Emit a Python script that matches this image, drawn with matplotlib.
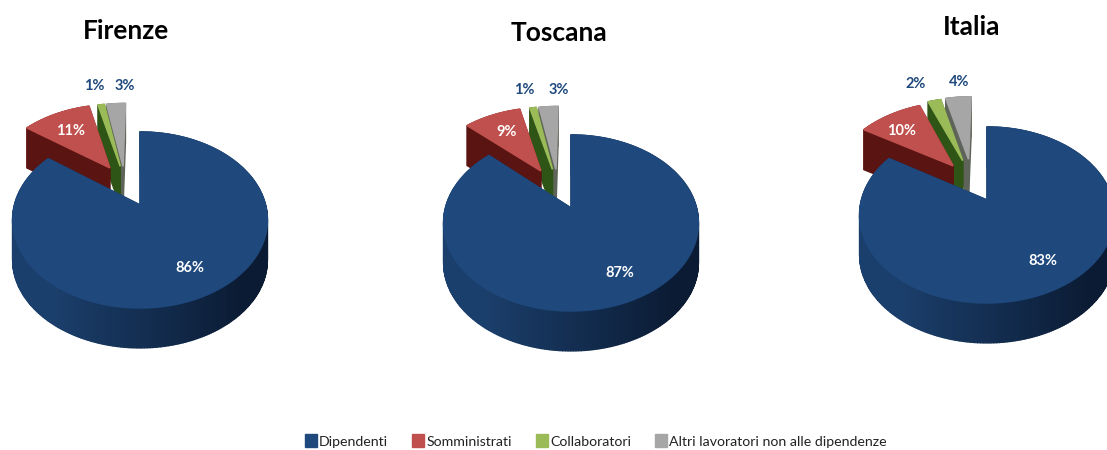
import numpy as np
import matplotlib
matplotlib.use("Agg")
import matplotlib.pyplot as plt
from matplotlib.patches import Patch
from matplotlib.colors import to_rgb

# Data
regions = ["Firenze", "Toscana", "Italia"]
categories = ["Dipendenti", "Somministrati", "Collaboratori", "Altri lavoratori non alle dipendenze"]
firenze = [86, 11, 1, 3]
toscana = [87, 9, 1, 3]
italia = [83, 10, 2, 4]

# Layout, all in pixels of the 1107x450 picture
FIG_W, FIG_H = 1107, 450
RADIUS = 125.5
SQUASH = 85.4
PERSP = 0.17
DEPTH = 40
centers = [(140, 205), (571, 208), (987, 200)]
title_pos = [(126, 31), (559, 33), (972, 27)]
# slice offsets from the pie centre, in radius units
offsets = [
    [(0, 0), (-0.26, 0.47), (-0.17, 0.49), (-0.146, 0.49)],
    [(0, 0), (-0.26, 0.47), (-0.16, 0.49), (-0.13, 0.49)],
    [(0, 0), (-0.29, 0.43), (-0.21, 0.50), (-0.16, 0.52)],
]
label_pos = [
    [(190, 268), (71, 131), (94, 86), (125, 86)],
    [(620, 273), (507, 132), (524, 90), (559, 90)],
    [(1043, 261), (902, 131), (916, 84), (959, 82)],
]
top_colors = ["#1F497D", "#C0504D", "#9BBB59", "#A6A6A6"]
wall_left = ["#1B3F6C", "#6E1C1A", "#3F6B1D", "#6F7468"]
wall_right = ["#0B1B33", "#5A1412", "#2F5516", "#5F645A"]
dark_blue = "#1F497D"

plt.rcParams["font.family"] = ["Lato", "DejaVu Sans"]


def project(u, v, center):
    s = 1 + PERSP * v
    return center[0] + RADIUS * u / s, center[1] - SQUASH * v / s


def draw_slice(ax, start, end, offset, center, i):
    # angles are clockwise from 12 o'clock
    t = np.radians(np.linspace(start, end, max(int(end - start), 2) + 1))
    u = np.concatenate([[0], np.sin(t)]) + offset[0]
    v = np.concatenate([[0], np.cos(t)]) + offset[1]
    x, y = project(u, v, center)
    left, right = np.array(to_rgb(wall_left[i])), np.array(to_rgb(wall_right[i]))

    # walls, back ones first
    n = len(x)
    order = sorted(range(n), key=lambda k: y[k] + y[(k + 1) % n])
    for k in order:
        k2 = (k + 1) % n
        mix = np.clip((np.sin(t[min(k, len(t) - 1)]) + 0.6) / 1.3, 0, 1)
        col = left + (right - left) * mix
        if k == 0 or k == n - 1:
            col = right
        ax.fill([x[k], x[k2], x[k2], x[k]], [y[k], y[k2], y[k2] + DEPTH, y[k] + DEPTH],
                color=col, lw=1.0)
    ax.fill(x, y, color=top_colors[i], lw=1.2)


def draw_pie(ax, values, center, slice_offsets):
    values = np.array(values, dtype=float)
    edges = np.concatenate([[0], np.cumsum(values) / values.sum() * 360])
    # grey and green sit behind red, and blue goes on top of them all
    for i in [3, 2, 1, 0]:
        draw_slice(ax, edges[i], edges[i + 1], slice_offsets[i], center, i)


fig = plt.figure(figsize=(FIG_W / 100, FIG_H / 100), dpi=100)
ax = fig.add_axes([0, 0, 1, 1])
ax.set_xlim(0, FIG_W)
ax.set_ylim(FIG_H, 0)
ax.axis("off")

for n, values in enumerate([firenze, toscana, italia]):
    draw_pie(ax, values, centers[n], offsets[n])
    ax.text(*title_pos[n], regions[n], fontsize=19, fontweight="bold", color="black",
            ha="center", va="center")
    for i, val in enumerate(values):
        col = "white" if i < 2 else dark_blue
        ax.text(*label_pos[n][i], f"{val}%", fontsize=10.5, fontweight="bold", color=col,
                ha="center", va="center")

handles = [Patch(color=c, label=l) for c, l in zip(top_colors, categories)]
fig.legend(handles=handles, ncol=4, frameon=False, loc="center", bbox_to_anchor=(596 / FIG_W, 1 - 441 / FIG_H),
           fontsize=10.2, handlelength=0.85, handleheight=1.0, handletextpad=0.15, columnspacing=1.7, labelcolor="#222222")

fig.savefig("out.png", dpi=100)
